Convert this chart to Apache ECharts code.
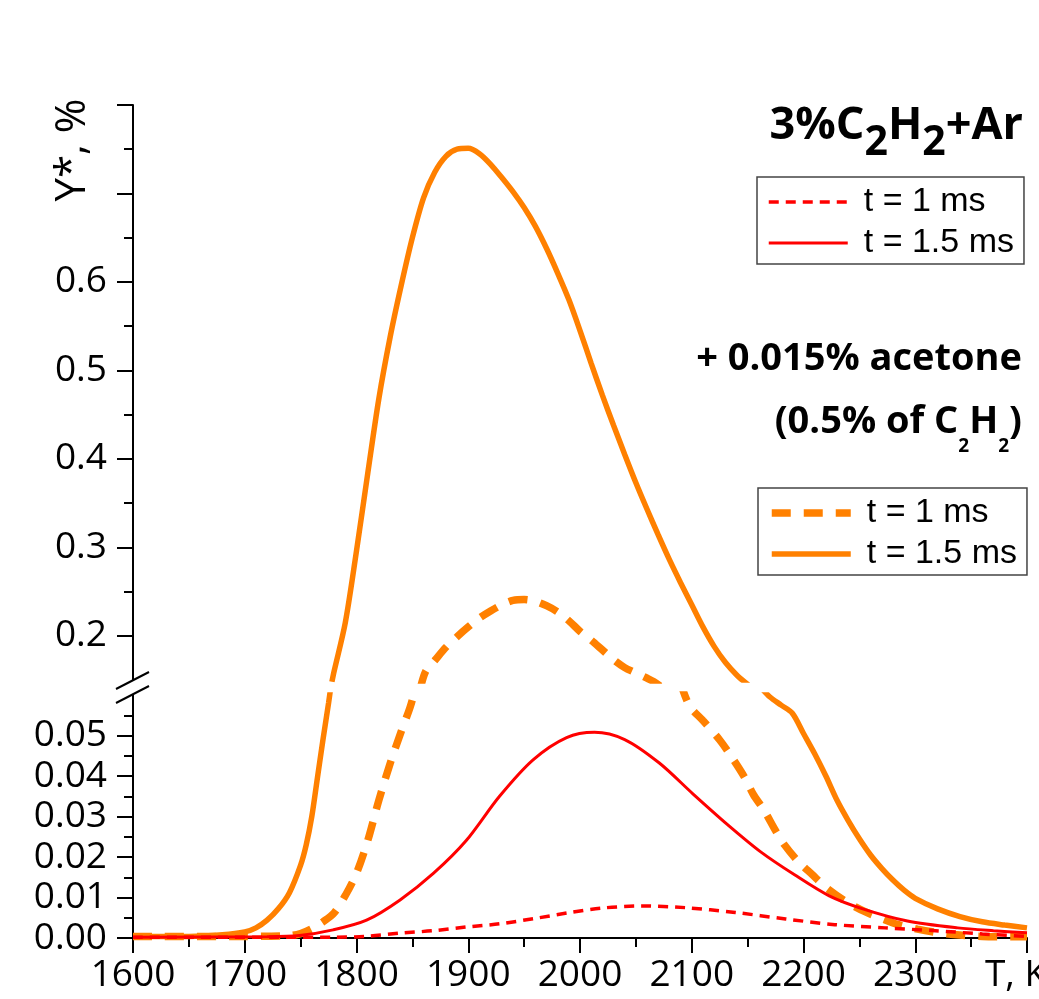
<!DOCTYPE html>
<html>
<head>
<meta charset="utf-8">
<script src="https://cdn.jsdelivr.net/npm/echarts@6/dist/echarts.min.js"></script>
<style>
html,body{margin:0;padding:0;background:#fff;}
#chart{width:1039px;height:999px;}
</style>
</head>
<body>
<div id="chart"></div>
<script>
// T (K) and Y* (%).
// The y axis is broken, so the orange curves have one array for the upper part and one for the lower part.

// 3%C2H2+Ar, t = 1 ms
var tAr1 = [1600, 1780, 1809, 1839, 1869, 1898, 1928, 1959, 1989, 2020, 2055, 2094, 2139, 2184, 2228, 2273, 2318, 2360, 2400];
var yAr1 = [0.0002, 0.0002, 0.0004, 0.0012, 0.0018, 0.0027, 0.0035, 0.0048, 0.0062, 0.0074, 0.0079, 0.0075, 0.0063, 0.0047, 0.0033, 0.0025, 0.0018, 0.001, 0.0004];
// 3%C2H2+Ar, t = 1.5 ms
var tAr15 = [1600, 1720, 1749, 1779, 1809, 1839, 1869, 1898, 1928, 1958, 1988, 2013, 2040, 2071, 2101, 2132, 2162, 2192, 2223, 2253, 2293, 2338, 2370, 2400];
var yAr15 = [0.0002, 0.0003, 0.0006, 0.002, 0.0044, 0.0094, 0.016, 0.024, 0.035, 0.044, 0.0495, 0.0508, 0.049, 0.0432, 0.0356, 0.028, 0.0212, 0.0156, 0.0104, 0.0072, 0.0042, 0.0025, 0.0018, 0.0013];

// + 0.015% acetone, t = 1 ms
var tAc1Low = [1600, 1700, 1740, 1750, 1760, 1770, 1780, 1790, 1800, 1810, 1820, 1830, 1840, 1848, 1853];
var yAc1Low = [0.0004, 0.0004, 0.0006, 0.0011, 0.0023, 0.004, 0.0062, 0.0105, 0.016, 0.024, 0.034, 0.043, 0.051, 0.057, 0.062];
var tAc1Up = [1857, 1862, 1870, 1880, 1890, 1900, 1910, 1920, 1930, 1940, 1950, 1960, 1970, 1980, 1990, 2000, 2010, 2020, 2030, 2040, 2050, 2060, 2066, 2075];
var yAc1Up = [0.14, 0.16, 0.172, 0.187, 0.199, 0.21, 0.22, 0.228, 0.235, 0.24, 0.241, 0.239, 0.234, 0.227, 0.217, 0.205, 0.195, 0.184, 0.173, 0.164, 0.158, 0.152, 0.148, 0.14];
var tAc1Low2 = [2090, 2098, 2110, 2125, 2135, 2147, 2155, 2165, 2175, 2183, 2195, 2208, 2220, 2238, 2255, 2271, 2285, 2302, 2318, 2332, 2360, 2400];
var yAc1Low2 = [0.063, 0.0573, 0.0537, 0.0489, 0.045, 0.0398, 0.0355, 0.0314, 0.0265, 0.023, 0.019, 0.0156, 0.0125, 0.009, 0.0065, 0.0047, 0.0033, 0.0022, 0.0014, 0.0009, 0.0004, 0.0003];

// + 0.015% acetone, t = 1.5 ms
var tAc15Low = [1600, 1650, 1680, 1700, 1710, 1720, 1730, 1740, 1750, 1755, 1760, 1765, 1770, 1775, 1777];
var yAc15Low = [0.0004, 0.0004, 0.0008, 0.0015, 0.0025, 0.0044, 0.0072, 0.0112, 0.018, 0.023, 0.030, 0.0395, 0.049, 0.058, 0.062];
var tAc15Up = [1778, 1780, 1790, 1800, 1810, 1820, 1830, 1840, 1850, 1860, 1870, 1880, 1890, 1900, 1910, 1920, 1930, 1940, 1950, 1960, 1970, 1980, 1990, 2000, 2010, 2020, 2030, 2040, 2050, 2060, 2070, 2080, 2090, 2100, 2110, 2120, 2130, 2140, 2150, 2155];
var yAc15Up = [0.148, 0.16, 0.215, 0.296, 0.383, 0.468, 0.537, 0.596, 0.65, 0.695, 0.724, 0.742, 0.75, 0.751, 0.745, 0.733, 0.718, 0.702, 0.684, 0.663, 0.638, 0.61, 0.58, 0.545, 0.508, 0.472, 0.438, 0.405, 0.373, 0.343, 0.314, 0.286, 0.26, 0.235, 0.21, 0.188, 0.17, 0.156, 0.145, 0.14];
var tAc15Low2 = [2163, 2170, 2180, 2190, 2200, 2210, 2220, 2230, 2240, 2250, 2260, 2270, 2280, 2290, 2300, 2320, 2340, 2360, 2380, 2400];
var yAc15Low2 = [0.0615, 0.0595, 0.0575, 0.0555, 0.0505, 0.0455, 0.04, 0.034, 0.029, 0.0245, 0.0205, 0.0172, 0.0143, 0.0118, 0.0098, 0.0072, 0.0053, 0.004, 0.0032, 0.0025];

// axis ticks (upper and lower parts of the broken y axis)
var upperTicks = [0.2, 0.3, 0.4, 0.5, 0.6, 0.7, 0.8];
var upperMinor = [0.25, 0.35, 0.45, 0.55, 0.65, 0.75];
var upperLabels = [0.2, 0.3, 0.4, 0.5, 0.6];
var lowerTicks = [0, 0.01, 0.02, 0.03, 0.04, 0.05];
var lowerMinor = [0.005, 0.015, 0.025, 0.035, 0.045, 0.055];

var legendNames = {ar1: 't = 1 ms', ar15: 't = 1.5 ms', ac1: 't = 1 ms', ac15: 't = 1.5 ms'};

function pairs(t, y) {
    return t.map(function (v, i) { return [v, y[i]]; });
}

var chart = echarts.init(document.getElementById('chart'));

var ORANGE = '#ff8000', RED = '#ff0000';
var FONT = 'Open Sans';
var TICK_FONT = 37;

var styles = {
    ac15: {color: ORANGE, width: 5.5, type: 'solid'},
    ac1: {color: ORANGE, width: 7.5, type: [19, 13]},
    ar15: {color: RED, width: 3, type: 'solid'},
    ar1: {color: RED, width: 3.5, type: [10, 7]}
};

// [name, grid, data]
var parts = [
    ['ac15', 0, pairs(tAc15Up, yAc15Up)],
    ['ac15', 1, pairs(tAc15Low, yAc15Low).concat([null]).concat(pairs(tAc15Low2, yAc15Low2))],
    ['ac1', 0, pairs(tAc1Up, yAc1Up)],
    ['ac1', 1, pairs(tAc1Low, yAc1Low).concat([null]).concat(pairs(tAc1Low2, yAc1Low2))],
    ['ar15', 1, pairs(tAr15, yAr15)],
    ['ar1', 1, pairs(tAr1, yAr1)]
];

var series = parts.map(function (p) {
    var s = styles[p[0]];
    return {
        name: p[0],
        type: 'line',
        xAxisIndex: p[1],
        yAxisIndex: p[1] === 0 ? 0 : 2,
        data: p[2].map(function (d) { return d === null ? [null, null] : d; }),
        connectNulls: false,
        smooth: 0.3,
        symbol: 'none',
        showSymbol: false,
        clip: true,
        color: s.color,
        lineStyle: {color: s.color, width: s.width, type: s.type}
    };
});

var axisLineStyle = {color: '#000', width: 2};

function legendOpt(names, left, top) {
    return {
        data: names,
        orient: 'vertical',
        left: left,
        top: top,
        padding: [8, 10, 4, 10],
        itemWidth: 79,
        itemHeight: 30,
        itemGap: 7,
        borderColor: '#444',
        borderWidth: 1.5,
        borderRadius: 0,
        backgroundColor: '#fff',
        selectedMode: false,
        itemStyle: {opacity: 0},
        lineStyle: {width: 'inherit'},
        formatter: function (n) { return legendNames[n]; },
        textStyle: {fontFamily: 'Liberation Sans', fontSize: 34, color: '#000', lineHeight: 30, padding: [0, 0, 0, 11]}
    };
}

var option = {
    animation: false,
    backgroundColor: '#fff',
    title: [{
        text: '{a|3%C}{s|2}{a|H}{s|2}{a|+Ar}',
        left: 1023,
        textAlign: 'right',
        top: 104,
        padding: 0,
        textStyle: {
            rich: {
                a: {fontFamily: FONT, fontWeight: 'bold', fontSize: 45, color: '#000', lineHeight: 50, verticalAlign: 'top'},
                s: {fontFamily: FONT, fontWeight: 'bold', fontSize: 41, color: '#000', lineHeight: 50, verticalAlign: 'top', padding: [19, 0, 0, 0]}
            }
        }
    }, {
        text: '{h|+ 0.015% acetone}\n{h|(0.5% of C}{u|2}{h|H}{u|2}{h|)}',
        left: 1022,
        textAlign: 'right',
        top: 340,
        padding: 0,
        textStyle: {
            rich: {
                h: {fontFamily: FONT, fontWeight: 'bold', fontSize: 38, color: '#000', lineHeight: 63, verticalAlign: 'top'},
                u: {fontFamily: FONT, fontWeight: 'bold', fontSize: 19, color: '#000', lineHeight: 63, verticalAlign: 'top', padding: [34, 0, 0, 0]}
            }
        }
    }],
    legend: [legendOpt(['ar1', 'ar15'], 757, 177), legendOpt(['ac1', 'ac15'], 758, 488)],
    grid: [
        {left: 133, right: 12, top: 105, height: 575, outerBoundsMode: 'none'},
        {left: 133, right: 12, top: 695, height: 243, outerBoundsMode: 'none'}
    ],
    xAxis: [{
        gridIndex: 0, type: 'value', min: 1600, max: 2400, show: false
    }, {
        gridIndex: 1, type: 'value', min: 1600, max: 2400, interval: 100,
        axisLine: {show: true, lineStyle: axisLineStyle},
        axisTick: {show: true, length: 15, lineStyle: axisLineStyle},
        minorTick: {show: true, splitNumber: 2, length: 9, lineStyle: axisLineStyle},
        splitLine: {show: false},
        axisLabel: {
            margin: 19, color: '#000', fontFamily: FONT, fontSize: TICK_FONT,
            formatter: function (v) { return v === 2400 ? '{tk|T, K}' : String(v); },
            rich: {tk: {fontFamily: FONT, fontSize: TICK_FONT, color: '#000', padding: [0, 22, 0, 0]}}
        }
    }],
    yAxis: [{
        gridIndex: 0, type: 'value', min: 0.15, max: 0.8,
        axisLine: {show: true, lineStyle: axisLineStyle},
        axisTick: {show: true, length: 16, lineStyle: axisLineStyle, customValues: upperTicks},
        axisLabel: {customValues: upperLabels, margin: 26, color: '#000', fontFamily: FONT, fontSize: TICK_FONT,
            formatter: function (v) { return v.toFixed(1); }},
        splitLine: {show: false}
    }, {
        gridIndex: 0, type: 'value', min: 0.15, max: 0.8, position: 'left',
        axisLine: {show: false},
        axisTick: {show: true, length: 9, lineStyle: axisLineStyle, customValues: upperMinor},
        axisLabel: {show: false},
        splitLine: {show: false}
    }, {
        gridIndex: 1, type: 'value', min: 0, max: 0.06,
        axisLine: {show: true, lineStyle: axisLineStyle},
        axisTick: {show: true, length: 16, lineStyle: axisLineStyle, customValues: lowerTicks},
        axisLabel: {customValues: lowerTicks, margin: 26, color: '#000', fontFamily: FONT, fontSize: TICK_FONT,
            formatter: function (v) { return v.toFixed(2); }},
        splitLine: {show: false}
    }, {
        gridIndex: 1, type: 'value', min: 0, max: 0.06, position: 'left',
        axisLine: {show: false},
        axisTick: {show: true, length: 9, lineStyle: axisLineStyle, customValues: lowerMinor},
        axisLabel: {show: false},
        splitLine: {show: false}
    }],
    graphic: [
        {type: 'line', shape: {x1: 116, y1: 689, x2: 149, y2: 672}, style: {stroke: '#000', lineWidth: 2}},
        {type: 'line', shape: {x1: 116, y1: 703, x2: 149, y2: 686}, style: {stroke: '#000', lineWidth: 2}},
        {type: 'text', x: 73, y: 150, rotation: Math.PI / 2,
            style: {text: 'Y*, %', fontFamily: FONT, fontSize: 42, fill: '#000', align: 'center', verticalAlign: 'middle'}}
    ],
    series: series
};

chart.setOption(option);
</script>
</body>
</html>
